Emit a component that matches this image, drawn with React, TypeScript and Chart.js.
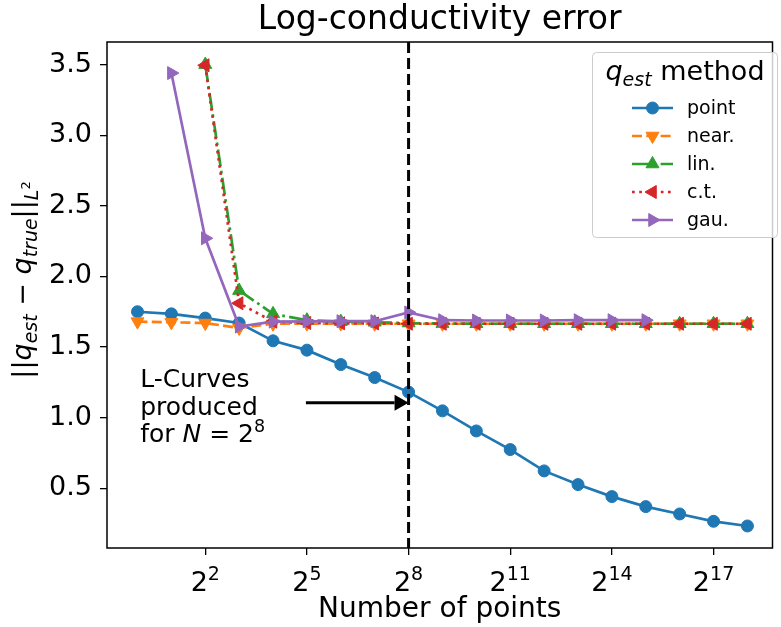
import React, { useEffect, useRef } from 'react';
import { Chart, registerables } from 'chart.js';

Chart.register(...registerables);

// ---------- data ----------
const exponents = [0, 1, 2, 3, 4, 5, 6, 7, 8, 9, 10, 11, 12, 13, 14, 15, 16, 17, 18];
const pointErr = [1.75, 1.735, 1.705, 1.67, 1.544, 1.478, 1.376, 1.284, 1.181, 1.048, 0.906, 0.774, 0.623, 0.526, 0.441, 0.37, 0.318, 0.266, 0.233];
const nearErr = [1.68, 1.675, 1.67, 1.635, 1.665, 1.666, 1.666, 1.665, 1.665, 1.665, 1.665, 1.665, 1.665, 1.665, 1.665, 1.665, 1.665, 1.665, 1.665];
const linErr = [null, null, 3.5, 1.9, 1.735, 1.69, 1.68, 1.675, 1.67, 1.666, 1.665, 1.665, 1.665, 1.665, 1.665, 1.665, 1.665, 1.665, 1.665];
const ctErr = [null, null, 3.495, 1.81, 1.68, 1.67, 1.668, 1.667, 1.665, 1.665, 1.665, 1.665, 1.665, 1.665, 1.665, 1.665, 1.665, 1.665, 1.665];
const gauErr = [null, 3.44, 2.27, 1.645, 1.68, 1.682, 1.683, 1.683, 1.745, 1.69, 1.688, 1.688, 1.688, 1.69, 1.69, 1.69, null, null, null];

const seriesNames = ['point', 'near.', 'lin.', 'c.t.', 'gau.'];
const seriesColors = ['#1f77b4', '#ff7f0e', '#2ca02c', '#d62728', '#9467bd'];
const seriesValues = [pointErr, nearErr, linErr, ctErr, gauErr];

const xTickExps = [2, 5, 8, 11, 14, 17];
const yTicks = [0.5, 1.0, 1.5, 2.0, 2.5, 3.0, 3.5];
const markedExp = 8;
const arrowFrom = { x: 4.97, y: 1.105 };
const arrowTo = { x: 8, y: 1.105 };
const noteAnchor = { x: 0.08, y: 1.218 };

// ---------- styling ----------
const FF = '"DejaVu Sans"';
const f = (size: number, italic = false) => `${italic ? 'italic ' : ''}${size}px ${FF}`;
const LW = 2.7;
const dashes: number[][] = [[], [10, 4.3], [17.3, 4.3, 2.7, 4.3], [2.7, 4.5], []];
const pStyles = ['circle', 'triangle', 'triangle', 'triangle', 'triangle'];
const pRot = [0, 180, 0, -90, 90];
const pRad = [6, 7.5, 7.5, 7.5, 7.5];

type Seg = { t: string; f: string; dy?: number };
function richWidth(ctx: CanvasRenderingContext2D, segs: Seg[]) {
  let w = 0;
  for (const s of segs) { ctx.font = s.f; w += ctx.measureText(s.t).width; }
  return w;
}
function drawRich(ctx: CanvasRenderingContext2D, segs: Seg[], x: number, y: number) {
  let cx = x;
  for (const s of segs) {
    ctx.font = s.f;
    ctx.fillText(s.t, cx, y + (s.dy || 0));
    cx += ctx.measureText(s.t).width;
  }
}
function drawMarker(ctx: CanvasRenderingContext2D, style: string, rotDeg: number, r: number, x: number, y: number) {
  ctx.beginPath();
  if (style === 'circle') {
    ctx.arc(x, y, r, 0, Math.PI * 2);
  } else {
    let rad = (rotDeg * Math.PI) / 180;
    for (let i = 0; i < 3; i++) {
      const px = x + Math.sin(rad) * r;
      const py = y - Math.cos(rad) * r;
      if (i === 0) ctx.moveTo(px, py); else ctx.lineTo(px, py);
      rad += (2 * Math.PI) / 3;
    }
    ctx.closePath();
  }
  ctx.fill();
  ctx.lineWidth = 1;
  ctx.stroke();
}

const overlay = {
  id: 'overlay',
  afterDatasetsDraw(chart: any) {
    const ctx: CanvasRenderingContext2D = chart.ctx;
    const a = chart.chartArea;
    const xs = chart.scales.x;
    const ys = chart.scales.y;
    ctx.save();
    // vertical dashed line
    const vx = xs.getPixelForValue(markedExp);
    ctx.strokeStyle = '#000';
    ctx.lineWidth = 3;
    ctx.setLineDash([11, 5]);
    ctx.beginPath();
    ctx.moveTo(vx, a.top);
    ctx.lineTo(vx, a.bottom);
    ctx.stroke();
    ctx.setLineDash([]);

    // arrow
    const ax0 = xs.getPixelForValue(arrowFrom.x);
    const ay0 = ys.getPixelForValue(arrowFrom.y);
    const ax1 = xs.getPixelForValue(arrowTo.x);
    const ay1 = ys.getPixelForValue(arrowTo.y);
    const headL = 14, headW = 8;
    ctx.lineWidth = 3;
    ctx.beginPath();
    ctx.moveTo(ax0, ay0);
    ctx.lineTo(ax1 - headL, ay1);
    ctx.stroke();
    ctx.fillStyle = '#000';
    ctx.beginPath();
    ctx.moveTo(ax1, ay1);
    ctx.lineTo(ax1 - headL, ay1 - headW);
    ctx.lineTo(ax1 - headL, ay1 + headW);
    ctx.closePath();
    ctx.fill();

    // spines
    ctx.lineWidth = 1.5;
    ctx.strokeStyle = '#000';
    ctx.strokeRect(a.left, a.top, a.right - a.left, a.bottom - a.top);
    ctx.restore();
  },
  afterDraw(chart: any) {
    const ctx: CanvasRenderingContext2D = chart.ctx;
    const a = chart.chartArea;
    const xs = chart.scales.x;
    const ys = chart.scales.y;
    const cxm = (a.left + a.right) / 2;
    ctx.save();
    ctx.fillStyle = '#000';
    ctx.textBaseline = 'alphabetic';
    ctx.textAlign = 'left';

    // title
    ctx.font = f(33);
    ctx.textAlign = 'center';
    ctx.fillText('Log-conductivity error', cxm, 29);
    ctx.textAlign = 'left';

    // x label
    ctx.font = f(28);
    ctx.textAlign = 'center';
    ctx.fillText('Number of points', cxm, 617);
    ctx.textAlign = 'left';

    // x tick labels
    for (const e of xTickExps) {
      const segs: Seg[] = [{ t: '2', f: f(27) }, { t: String(e), f: f(19), dy: -11 }];
      const w = richWidth(ctx, segs);
      drawRich(ctx, segs, xs.getPixelForValue(e) - w / 2, 591);
    }

    // y label
    const ylab: Seg[] = [
      { t: '||', f: f(27) },
      { t: 'q', f: f(27, true) },
      { t: 'est', f: f(19, true), dy: 6 },
      { t: ' \u2212 ', f: f(27) },
      { t: 'q', f: f(27, true) },
      { t: 'true', f: f(19, true), dy: 6 },
      { t: '||', f: f(27) },
      { t: 'L', f: f(19, true), dy: 7 },
      { t: '2', f: f(13), dy: -1 },
    ];
    ctx.save();
    ctx.translate(31, 280);
    ctx.rotate(-Math.PI / 2);
    const yw = richWidth(ctx, ylab);
    drawRich(ctx, ylab, -yw / 2, 0);
    ctx.restore();

    // annotation text
    const nx = xs.getPixelForValue(noteAnchor.x);
    const ny = ys.getPixelForValue(noteAnchor.y);
    ctx.font = f(25);
    ctx.fillText('L-Curves', nx, ny);
    ctx.fillText('produced', nx, ny + 28);
    drawRich(ctx, [
      { t: 'for ', f: f(25) },
      { t: 'N', f: f(25, true) },
      { t: ' = 2', f: f(25) },
      { t: String(markedExp), f: f(17.5), dy: -10 },
    ], nx, ny + 55);

    // legend
    const lx = 592, ly = 52, lw = 185, lh = 185;
    ctx.beginPath();
    (ctx as any).roundRect(lx + 0.5, ly + 0.5, lw, lh, 4);
    ctx.fillStyle = 'rgba(255,255,255,0.8)';
    ctx.fill();
    ctx.strokeStyle = '#cccccc';
    ctx.lineWidth = 1;
    ctx.stroke();
    ctx.fillStyle = '#000';
    const ltitle: Seg[] = [
      { t: 'q', f: f(27, true) },
      { t: 'est', f: f(19, true), dy: 6 },
      { t: ' method', f: f(27) },
    ];
    const tw = richWidth(ctx, ltitle);
    drawRich(ctx, ltitle, lx + lw / 2 - tw / 2 + 0.5, 80);
    for (let i = 0; i < seriesNames.length; i++) {
      const ry = 108 + i * 28;
      const col = seriesColors[i];
      ctx.strokeStyle = col;
      ctx.fillStyle = col;
      ctx.lineWidth = LW;
      ctx.setLineDash(dashes[i]);
      ctx.beginPath();
      ctx.moveTo(632, ry);
      ctx.lineTo(673, ry);
      ctx.stroke();
      ctx.setLineDash([]);
      drawMarker(ctx, pStyles[i], pRot[i], pRad[i], 652.5, ry);
      ctx.fillStyle = '#000';
      ctx.font = f(19);
      ctx.fillText(seriesNames[i], 687, ry + 6);
    }
    ctx.restore();
  },
};

export default function App() {
  const ref = useRef<HTMLCanvasElement | null>(null);
  useEffect(() => {
    if (!ref.current) return;
    const datasets = seriesValues.map((vals, i) => ({
      label: seriesNames[i],
      data: exponents.map((e, j) => ({ x: e, y: vals[j] })),
      borderColor: seriesColors[i],
      backgroundColor: seriesColors[i],
      pointBackgroundColor: seriesColors[i],
      pointBorderColor: seriesColors[i],
      borderWidth: LW,
      borderDash: dashes[i],
      pointStyle: pStyles[i],
      pointRotation: pRot[i],
      pointRadius: pRad[i],
      pointBorderWidth: 1,
      pointHoverRadius: pRad[i],
      tension: 0,
      fill: false,
      spanGaps: false,
      order: seriesNames.length - i,
    }));
    const chart = new Chart(ref.current, {
      type: 'line',
      data: { datasets: datasets as any },
      plugins: [overlay],
      options: {
        animation: false,
        responsive: false,
        devicePixelRatio: 1,
        layout: { padding: { top: 42, right: 1, left: 0, bottom: 0 } },
        plugins: {
          legend: { display: false },
          title: { display: false },
          tooltip: { enabled: false },
        },
        scales: {
          x: {
            type: 'linear',
            min: -0.9,
            max: 18.74,
            afterBuildTicks: (s: any) => { s.ticks = xTickExps.map((v) => ({ value: v })); },
            afterFit: (s: any) => { s.height = 79; },
            ticks: { display: false },
            grid: { drawOnChartArea: false, drawTicks: true, tickLength: 7, color: '#000', lineWidth: 1.3 },
            border: { display: false },
          },
          y: {
            type: 'linear',
            min: 0.077,
            max: 3.66,
            afterBuildTicks: (s: any) => { s.ticks = yTicks.map((v) => ({ value: v })); },
            afterFit: (s: any) => { s.width = 107; },
            ticks: {
              color: '#000',
              padding: 8,
              font: { family: 'DejaVu Sans', size: 27 },
              callback: (v: any) => Number(v).toFixed(1),
            },
            grid: { drawOnChartArea: false, drawTicks: true, tickLength: 7, color: '#000', lineWidth: 1.3 },
            border: { display: false },
          },
        },
      } as any,
    });
    return () => chart.destroy();
  }, []);
  return (
    <div style={{ position: 'fixed', left: 0, top: 0, width: 781, height: 627, background: '#fff' }}>
      <canvas ref={ref} width={781} height={627} style={{ display: 'block', width: 781, height: 627 }} />
    </div>
  );
}
